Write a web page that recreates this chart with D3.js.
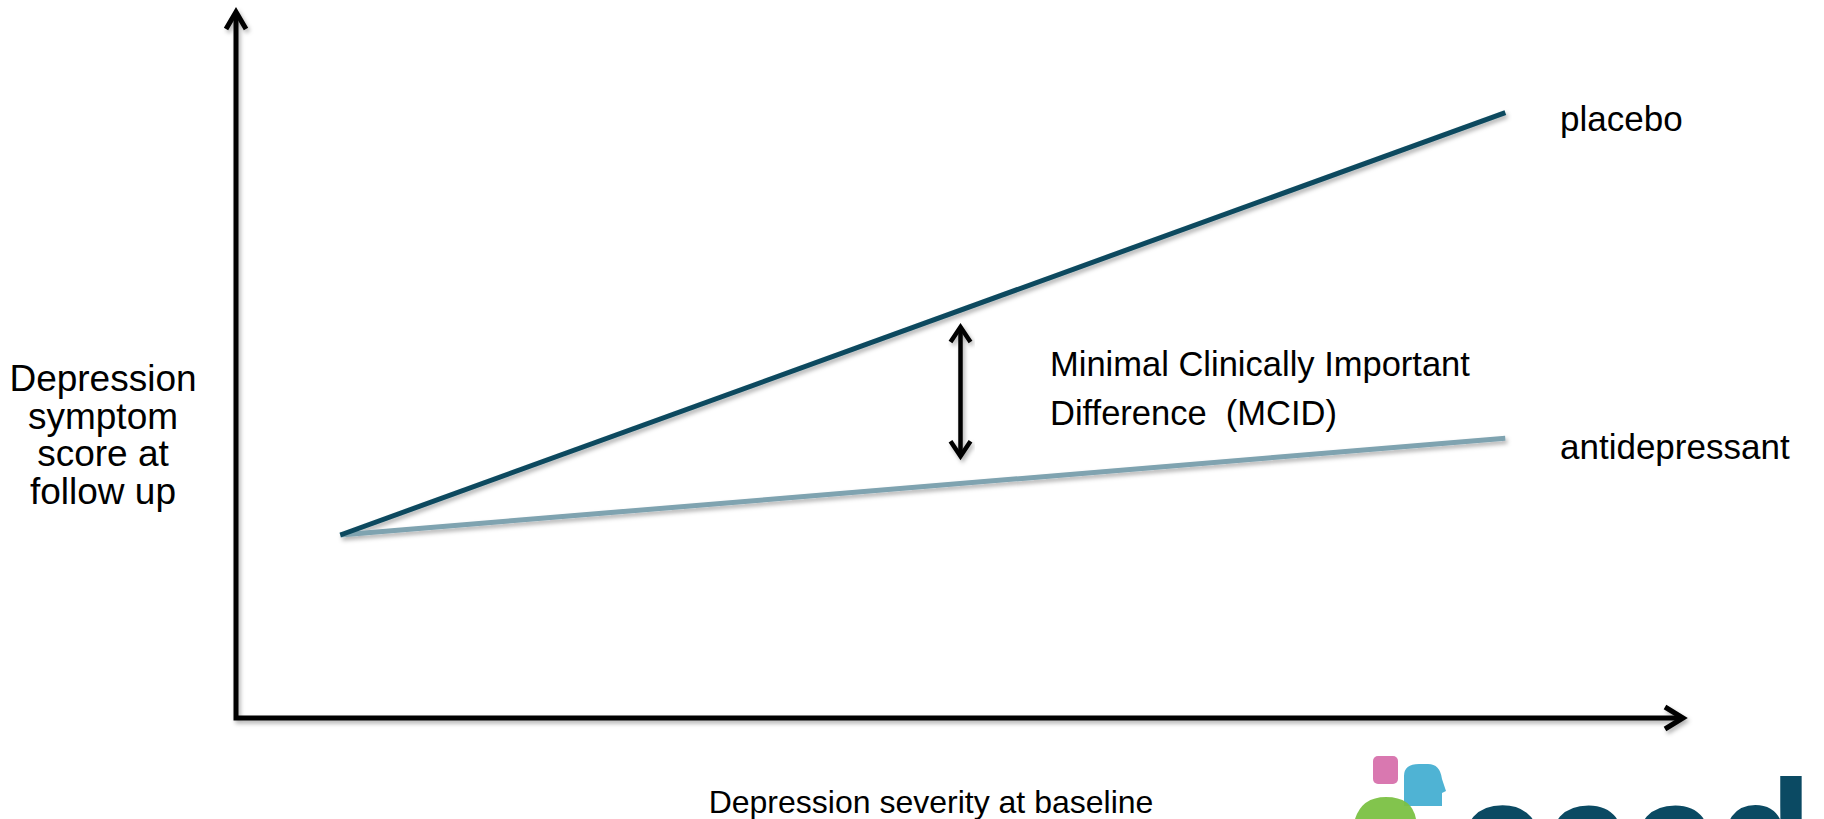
<!DOCTYPE html>
<html>
<head>
<meta charset="utf-8">
<script src="https://cdn.jsdelivr.net/npm/d3@7"></script>
<style>
  html, body { margin: 0; padding: 0; background: #fff; overflow: hidden; }
  svg { display: block; }
  text { font-family: "Liberation Sans", Arial, sans-serif; fill: #000; }
</style>
</head>
<body>
<script>
// ---- data (conceptual units, 0..100 on both axes) ----
const seriesNames = ["placebo", "antidepressant"];
const baselineX = [7.2, 87.6];          // baseline severity: start, end
const placeboY = [25.85, 85.5];         // follow-up score for placebo
const antidepressantY = [25.85, 39.5];  // follow-up score for antidepressant
const mcidX = [50];
const mcidY = [36.7, 55.5];
const mcidLabel = ["Minimal Clinically Important", "Difference  (MCID)"];
const yTitle = ["Depression", "symptom", "score at", "follow up"];
const xTitle = ["Depression severity at baseline"];
const logoText = ["ceeda"];

const W = 1824, H = 819;
const svg = d3.select("body").append("svg").attr("width", W).attr("height", H);

const defs = svg.append("defs");
const f = defs.append("filter").attr("id", "shadow")
  .attr("x", "-10%").attr("y", "-10%").attr("width", "130%").attr("height", "140%");
f.append("feDropShadow").attr("dx", 2).attr("dy", 3).attr("stdDeviation", 2)
  .attr("flood-color", "#000").attr("flood-opacity", 0.3);

const x = d3.scaleLinear().domain([0, 100]).range([236, 1685]);
const y = d3.scaleLinear().domain([0, 100]).range([718, 10]);

// axes with open arrowheads
const axes = svg.append("g").attr("filter", "url(#shadow)")
  .attr("stroke", "#000").attr("stroke-width", 5).attr("fill", "none");
axes.append("path").attr("d", d3.line()([[x(0), y(100) + 2], [x(0), y(0)], [x(100) - 2, y(0)]]))
  .attr("stroke-linejoin", "miter");
axes.append("path").attr("d", d3.line()([[x(0) - 10, y(100) + 19], [x(0), y(100) + 2], [x(0) + 10, y(100) + 19]]))
  .attr("stroke-linejoin", "miter");
axes.append("path").attr("d", d3.line()([[x(100) - 20, y(0) - 11], [x(100) - 2, y(0)], [x(100) - 20, y(0) + 11]]))
  .attr("stroke-linejoin", "miter");

// series lines
const line = d3.line().x(d => x(d[0])).y(d => y(d[1]));
const lines = svg.append("g").attr("filter", "url(#shadow)").attr("fill", "none").attr("stroke-width", 5);
lines.append("path").datum(d3.zip(baselineX, antidepressantY)).attr("d", line).attr("stroke", "#7fa3b0");
lines.append("path").datum(d3.zip(baselineX, placeboY)).attr("d", line).attr("stroke", "#0b4a5f");

// MCID double arrow
const mg = svg.append("g").attr("filter", "url(#shadow)")
  .attr("stroke", "#000").attr("stroke-width", 4.5).attr("fill", "none");
const mx = x(mcidX[0]), my0 = y(mcidY[0]), my1 = y(mcidY[1]);
mg.append("path").attr("d", d3.line()([[mx, my1 + 2], [mx, my0 - 2]]));
mg.append("path").attr("d", d3.line()([[mx - 10, my1 + 17], [mx, my1 + 2], [mx + 10, my1 + 17]]));
mg.append("path").attr("d", d3.line()([[mx - 10, my0 - 17], [mx, my0 - 2], [mx + 10, my0 - 17]]));

// series labels
svg.append("text").attr("x", 1560).attr("y", 131).attr("font-size", 35).text(seriesNames[0]);
svg.append("text").attr("x", 1560).attr("y", 459).attr("font-size", 35).text(seriesNames[1]);

// MCID label
svg.append("g").selectAll("text").data(mcidLabel).join("text")
  .attr("x", 1050).attr("y", (d, i) => 376 + i * 49).attr("font-size", 34.5)
  .attr("xml:space", "preserve").style("white-space", "pre").text(d => d);

// y title
svg.append("g").selectAll("text").data(yTitle).join("text")
  .attr("x", 103).attr("y", (d, i) => 391 + i * 37.5).attr("font-size", 37)
  .attr("text-anchor", "middle").text(d => d);

// x title
svg.append("text").attr("x", 931).attr("y", 813).attr("font-size", 32)
  .attr("text-anchor", "middle").text(xTitle[0]);

// logo (partially cut off at the bottom)
const logo = svg.append("g");
logo.append("rect").attr("x", 1373).attr("y", 756).attr("width", 25).attr("height", 28).attr("rx", 5).attr("fill", "#d978b0");
logo.append("path").attr("fill", "#4fb3d4")
  .attr("d", "M1404,806 L1404,776 Q1404,764 1419,764 L1428,764 Q1440,764 1442,779 L1446,791 L1442,793 L1442,806 Z");
logo.append("path").attr("fill", "#7bc143").attr("opacity", 0.95)
  .attr("d", "M1355,819 Q1362,797 1386,797 Q1412,797 1416,819 Z");
logo.append("text").attr("x", 1457).attr("y", 889).attr("font-size", 156)
  .attr("font-family", "'Open Sans', sans-serif").attr("font-weight", 600)
  .style("fill", "#0b4a63").text(logoText[0]);
</script>
</body>
</html>
